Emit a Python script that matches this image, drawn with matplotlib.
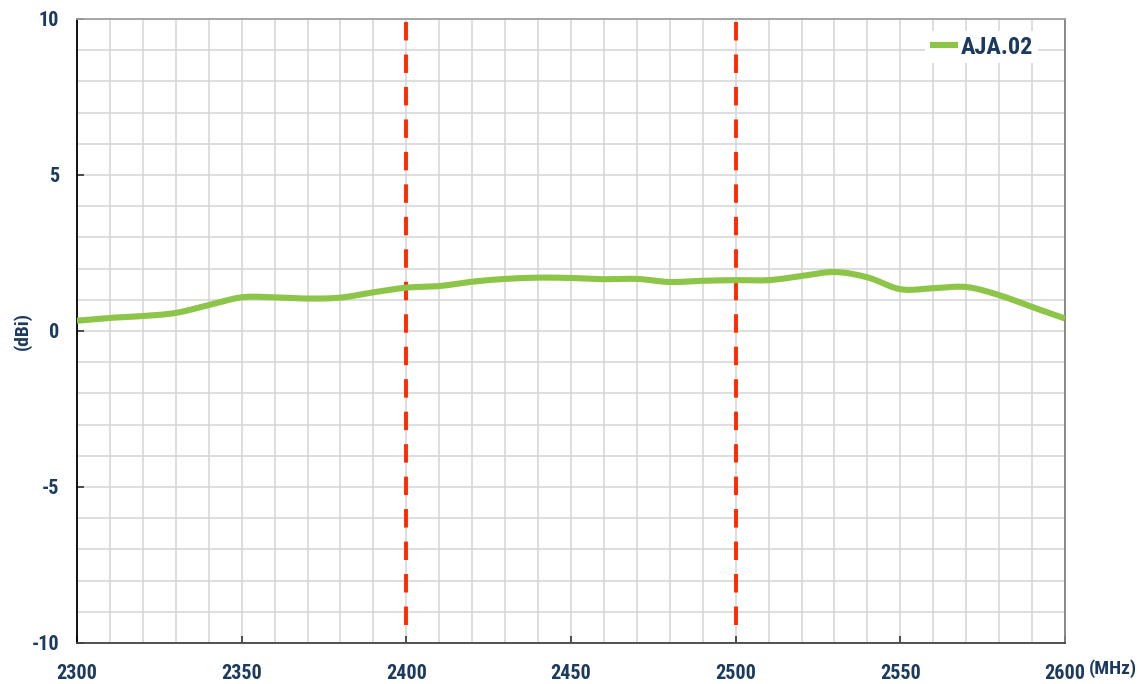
import numpy as np
import matplotlib
matplotlib.use("Agg")
import matplotlib.pyplot as plt
from matplotlib import font_manager

freq = [2300, 2310, 2320, 2330, 2340, 2350, 2360, 2370, 2380, 2390, 2400,
        2410, 2420, 2430, 2440, 2450, 2460, 2470, 2480, 2490, 2500,
        2510, 2520, 2530, 2540, 2550, 2560, 2570, 2580, 2590, 2600]
gain = [0.33, 0.42, 0.48, 0.58, 0.83, 1.08, 1.08, 1.04, 1.07, 1.24, 1.39,
        1.44, 1.58, 1.67, 1.71, 1.70, 1.66, 1.67, 1.57, 1.61, 1.63,
        1.63, 1.76, 1.89, 1.72, 1.34, 1.37, 1.41, 1.15, 0.77, 0.40]
band_edges = [2400, 2500]
series_name = "AJA.02"
x_label = "(MHz)"
y_label = "(dBi)"

plt.rcParams["axes.unicode_minus"] = False
names = {f.name for f in font_manager.fontManager.ttflist}
fam = "Liberation Sans"
for cand in ["Liberation Sans Narrow", "Arimo Narrow", "Roboto Condensed",
             "Asap Condensed", "Barlow Semi Condensed"]:
    if cand in names:
        fam = cand
        break
navy = "#1B3A5E"

def catmull(x, y, n=20):
    x = np.asarray(x, float); y = np.asarray(y, float)
    px = np.concatenate([[2*x[0]-x[1]], x, [2*x[-1]-x[-2]]])
    py = np.concatenate([[2*y[0]-y[1]], y, [2*y[-1]-y[-2]]])
    xs, ys = [], []
    t = np.linspace(0, 1, n, endpoint=False)
    for i in range(1, len(px)-2):
        for arr, out in ((px, xs), (py, ys)):
            p0, p1, p2, p3 = arr[i-1], arr[i], arr[i+1], arr[i+2]
            out.append(0.5*((2*p1) + (-p0+p2)*t + (2*p0-5*p1+4*p2-p3)*t**2 + (-p0+3*p1-3*p2+p3)*t**3))
    xs.append([x[-1]]); ys.append([y[-1]])
    return np.concatenate(xs), np.concatenate(ys)

fig = plt.figure(figsize=(11.46, 6.84), dpi=100)
ax = fig.add_axes([77/1146, 41/684, 988/1146, 624/684])

ax.set_xlim(2300, 2600)
ax.set_ylim(-10, 10)
ax.set_xticks(np.arange(2300, 2601, 50))
ax.set_xticks(np.arange(2300, 2601, 10), minor=True)
ax.set_yticks([-10, -5, 0, 5, 10])
ax.set_yticks(np.arange(-10, 11, 1), minor=True)
ax.grid(which="both", color="#D4D4D4", linewidth=1.1)
ax.set_axisbelow(True)

for xv in band_edges:
    ax.plot([xv, xv], [9.9, -9.65], color="#FF2A00", linewidth=2.8,
            linestyle=(0, (4.75, 3.6)), dash_capstyle="butt", zorder=3)

sx, sy = catmull(freq, gain)
ax.plot(sx, sy, color="#8DC549", linewidth=4.4, solid_capstyle="butt", label=series_name, zorder=4)

ax.spines["left"].set_color("black")
ax.spines["bottom"].set_color("#444444")
ax.spines["top"].set_color("#A0A0A0")
ax.spines["right"].set_color("#808080")
for s in ax.spines.values():
    s.set_linewidth(1.3)

ax.tick_params(which="major", direction="in", length=5, width=1.2, color="#333333", pad=13,
               labelsize=14.5, labelcolor=navy)
ax.tick_params(which="minor", length=0)
for lab in ax.get_xticklabels() + ax.get_yticklabels():
    lab.set_fontfamily(fam)
    lab.set_fontweight("bold")
ax.tick_params(axis="x", pad=15)

fig.text(22/1146, 1-331/684, y_label, rotation=90, ha="center", va="center",
         fontsize=14, fontweight="bold", color=navy, family=fam)
fig.text(1113/1146, 1-669/684, x_label, ha="center", va="center",
         fontsize=14, fontweight="bold", color=navy, family=fam)

leg = ax.legend(loc="upper right", bbox_to_anchor=(0.98, 0.993), frameon=True,
                handlelength=1.15, handletextpad=0.1, borderpad=0.2, borderaxespad=0.3,
                prop={"family": fam, "weight": "bold", "size": 17.5})
leg.get_frame().set_edgecolor("none")
leg.get_frame().set_facecolor("white")
leg.get_frame().set_alpha(1)
for t in leg.get_texts():
    t.set_color(navy)

fig.savefig("out.png", dpi=100)
